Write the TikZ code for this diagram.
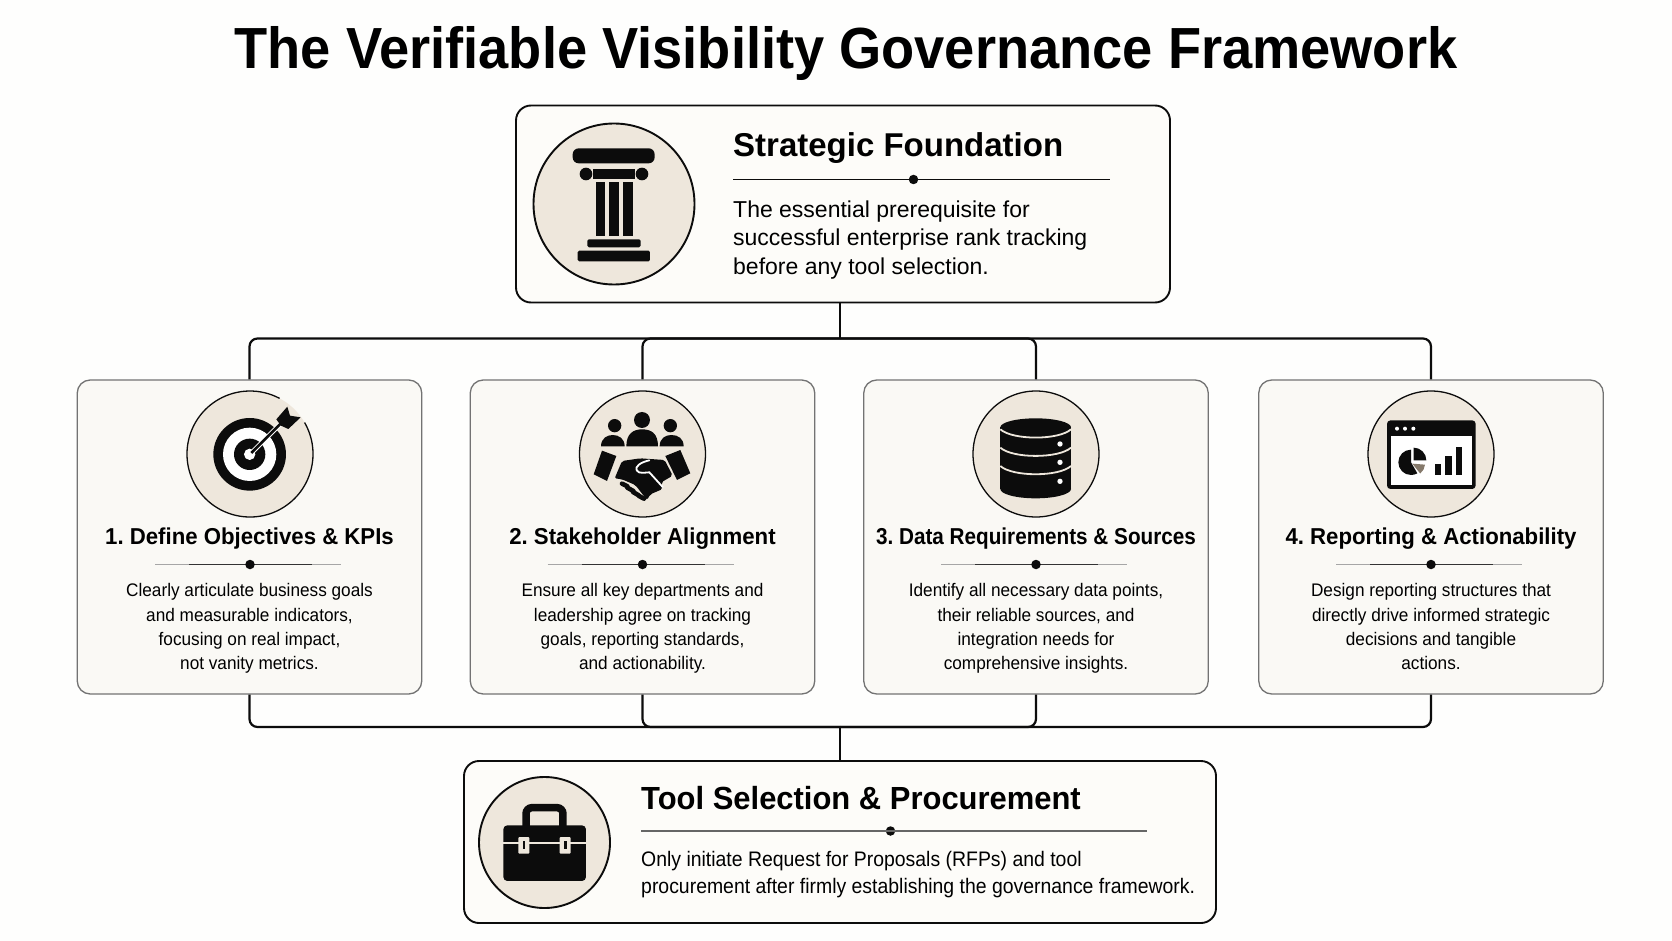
\documentclass[tikz,border=0pt]{standalone}
\usepackage{fontspec}
\setmainfont{Liberation Sans}
\definecolor{paper}{HTML}{FEFEFD}
\definecolor{panel}{HTML}{FDFCF9}
\definecolor{cardfill}{HTML}{FAF9F5}
\definecolor{sand}{HTML}{EEE7DC}
\definecolor{ink}{HTML}{0C0C0C}
\definecolor{slice}{HTML}{85796B}
\tikzset{
	wire/.style={draw=ink, line width=2.2pt},
	panelbox/.style={draw=ink, line width=1.9pt, fill=panel, rounded corners=15pt, inner sep=0pt},
	cardbox/.style={draw=black!55, line width=1.3pt, fill=cardfill, rounded corners=13pt, inner sep=0pt,
		minimum width=344.5pt, minimum height=314pt},
	badge/.style={circle, fill=sand, draw=ink, line width=1.3pt, inner sep=0pt, minimum size=126pt},
	bigbadge/.style={badge, line width=1.9pt},
	dotmark/.style={circle, fill=ink, inner sep=0pt, minimum size=9.5pt},
	icon/.style={x=0.3333pt, y=-0.3333pt},
	maintitle/.style={anchor=base, inner sep=0pt, font=\fontsize{58}{58}\selectfont\bfseries\addfontfeature{FakeStretch=0.935}},
	paneltitle/.style={anchor=base west, inner sep=0pt, font=\fontsize{33}{33}\selectfont\bfseries},
	cardtitle/.style={anchor=base, inner sep=0pt, font=\fontsize{23}{23}\selectfont\bfseries\addfontfeature{FakeStretch=0.965}},
	cardtext/.style={anchor=north, inner sep=0pt, align=center, font=\fontsize{18.2}{24.3}\selectfont\addfontfeature{FakeStretch=0.945}},
}
\begin{document}
\frenchspacing
\begin{tikzpicture}[x=1pt, y=-1pt]
	\useasboundingbox
		[fill=paper] (0,0) rectangle (1672,941);

	\node [maintitle] (heading) at (846, 68.5) {The Verifiable Visibility Governance Framework};

	\node [panelbox, minimum width=654pt, minimum height=197pt] (foundation) at (843, 204) {};
	\node [cardbox] (objectives) at (249.5, 537) {};
	\node [cardbox] (alignment) at (642.5, 537) {};
	\node [cardbox] (sources) at (1036, 537) {};
	\node [cardbox] (reporting) at (1431, 537) {};
	\node [panelbox, minimum width=752pt, minimum height=162pt] (procurement) at (840, 842) {};

	\coordinate (bustop) at (840, 338.5);
	\coordinate (busbottom) at (840, 727);

	\draw
		[wire] (bustop |- foundation.south) -- (bustop);

	\draw
		[wire] (busbottom) -- (procurement.north);

	\foreach \card in {objectives,alignment,sources,reporting} {
		\draw
			[wire, rounded corners=8pt] (bustop) -| (\card.north);
		\draw
			[wire, rounded corners=8pt] (\card.south) |- (busbottom);
	}

	\node [bigbadge, minimum size=161pt] (pillarbadge) at (614, 204) {};
	\node [badge, draw=none] (targetbadge) at (250, 454) {};
	\node [badge] (peoplebadge) at (642.5, 454) {};
	\node [badge] (databadge) at (1036, 454) {};
	\node [badge] (chartbadge) at (1431, 454) {};
	\node [bigbadge, minimum size=131pt] (toolbadge) at (544.5, 842.5) {};

	\node [paneltitle] (foundationtitle) at (733, 157) {Strategic Foundation};
	\node [dotmark] (foundationdot) at (913.5, 179.5) {};
	\node [anchor=north west, inner sep=0pt, align=left, font=\fontsize{23}{28.5}\selectfont] (foundationtext)
		at (733, 200.5) {The essential prerequisite for\\successful enterprise rank tracking\\before any tool selection.};

	\draw
		[ink, line width=1.5pt] (foundationtitle.west |- foundationdot) -- (1109.5, 179.5);

	\node [cardtitle] (objectivestitle) at (249.5, 544.5) {1. Define Objectives \& KPIs};
	\node [cardtitle] (alignmenttitle) at (642.5, 544.5) {2. Stakeholder Alignment};
	\node [cardtitle, font=\fontsize{23}{23}\selectfont\bfseries\addfontfeature{FakeStretch=0.9}] (sourcestitle) at (1036, 544.5) {3. Data Requirements \& Sources};
	\node [cardtitle] (reportingtitle) at (1431, 544.5) {4. Reporting \& Actionability};

	\foreach \x/\card in {250/objectives,642.5/alignment,1036/sources,1431/reporting} {
		\draw
			[black!35, line width=1pt] (\x-95, 564.5) -- (\x+91, 564.5);
		\draw
			[black!80, line width=1.2pt] (\x-61, 564.5) -- (\x+62, 564.5);
		\node [dotmark] (\card dot) at (\x, 564.5) {};
	}

	\node [cardtext] (objectivestext) at (249.5, 583.5)
		{Clearly articulate business goals\\and measurable indicators,\\focusing on real impact,\\not vanity metrics.};
	\node [cardtext] (alignmenttext) at (642.5, 583.5)
		{Ensure all key departments and\\leadership agree on tracking\\goals, reporting standards,\\and actionability.};
	\node [cardtext] (sourcestext) at (1036, 583.5)
		{Identify all necessary data points,\\their reliable sources, and\\integration needs for\\comprehensive insights.};
	\node [cardtext] (reportingtext) at (1431, 583.5)
		{Design reporting structures that\\directly drive informed strategic\\decisions and tangible\\actions.};

	\node [paneltitle, font=\fontsize{32}{32}\selectfont\bfseries\addfontfeature{FakeStretch=0.967}] (procurementtitle) at (641, 809.5) {Tool Selection \& Procurement};
	\node [dotmark] (procurementdot) at (890.5, 831) {};
	\node [anchor=north west, inner sep=0pt, align=left, font=\fontsize{21}{27}\selectfont\addfontfeature{FakeStretch=0.925}] (procurementtext)
		at (641, 851) {Only initiate Request for Proposals (RFPs) and tool\\procurement after firmly establishing the governance framework.};

	\draw
		[black!60, line width=1.5pt] (procurementtitle.west |- procurementdot) -- (1146.5, 831);

	\begin{scope}[shift={(530,120)}, icon]
		\fill [ink, rounded corners=6pt] (128,85) rectangle (374,130);
		\fill [ink] (190,147) rectangle (314,176);
		\fill [ink] (168,162) circle (19);
		\fill [ink] (336,162) circle (19);
		\foreach \x in {197,238,279}
			\fill [ink] (\x,186) rectangle (\x+29,348);
		\fill [ink, rounded corners=1.5pt] (172,358) rectangle (332,382);
		\fill [ink, rounded corners=1.5pt] (143,392) rectangle (360,424);
	\end{scope}

	\draw
		[ink, line width=1.3pt] (targetbadge.center) ++(-30:63) arc [start angle=-30, end angle=298, radius=63];

	\begin{scope}[shift={(180,385)}, icon]
		\fill [ink] (209,208) circle (109);
		\fill [white] (209,208) circle (80);
		\fill [ink] (209,208) circle (47);
		\fill [white] (209,208) circle (17);
		\draw [white, line width=4.6pt] (214,204) -- (300,118);
		\draw [ink, line width=2.6pt] (214,204) -- (305,113);
		\fill [ink] (289,103) -- (322,65) -- (330,92) -- (362,97) -- (325,132) -- (303,122) -- cycle;
	\end{scope}

	\begin{scope}[shift={(572,385)}, icon]
		\fill [ink] (210,105) circle (24);
		\fill [ink] (128,122) circle (20);
		\fill [ink] (295,122) circle (20);
		\fill [ink] (163,184) .. controls (163,145) and (185,133) .. (210,133) .. controls (238,133) and (258,145) .. (258,184) -- cycle;
		\fill [ink] (87,184) .. controls (87,160) and (105,150) .. (122,150) .. controls (140,150) and (158,160) .. (158,184) -- cycle;
		\fill [ink] (263,184) .. controls (263,160) and (280,150) .. (298,150) .. controls (318,150) and (335,160) .. (335,184) -- cycle;
		\fill [ink] (90,197) -- (133,213) -- (105,288) -- (65,268) -- cycle;
		\fill [ink] (280,213) -- (325,195) -- (355,265) -- (315,285) -- cycle;
		\fill [ink, rounded corners=2pt] (128,280) -- (150,228) -- (205,220) -- (278,225) -- (302,272) -- (268,292) -- (272,312) -- (235,328) -- (225,345) -- (190,300) -- (150,283) -- cycle;
		\draw [white, line width=1.8pt, line cap=round] (232,226) .. controls (205,232) and (188,245) .. (194,256) .. controls (200,268) and (222,262) .. (232,262) -- (272,306);
		\foreach \xa/\ya/\xb/\yb in {150/296/166/304,166/308/184/318,183/321/200/331,201/333/216/341}
			\draw [ink, line width=4.6pt, line cap=round] (\xa,\ya) -- (\xb,\yb);
	\end{scope}

	\begin{scope}[shift={(966,385)}, icon]
		\fill [ink] (209,127) ellipse [x radius=106, y radius=27];
		\fill [ink] (103,127) rectangle (315,312);
		\fill [ink] (209,312) ellipse [x radius=106, y radius=28];
		\foreach \y in {133,188,243}
			\draw [sand, line width=1.8pt] (103,\y) .. controls (140,\y+33) and (278,\y+33) .. (315,\y);
		\foreach \y in {177,232,289}
			\fill [white] (282,\y) circle (8);
	\end{scope}

	\begin{scope}[shift={(1361,385)}, icon]
		\fill [ink, rounded corners=3.5pt] (78,106) rectangle (344,312);
		\fill [white] (90,153) rectangle (332,301);
		\foreach \x in {108,132,157}
			\fill [white] (\x,131) circle (6);
		\fill [ink] (150,232) -- (150,194) arc [start angle=-90, end angle=-300, radius=38] -- cycle;
		\fill [ink] (158,226) -- (158,188) arc [start angle=-90, end angle=0, radius=38] -- cycle;
		\fill [slice] (154,236) -- (192,239) arc [start angle=5, end angle=52, radius=38] -- cycle;
		\fill [ink] (222,238) rectangle (240,270);
		\fill [ink] (252,214) rectangle (272,270);
		\fill [ink] (284,186) rectangle (304,270);
	\end{scope}

	\begin{scope}[shift={(475,772)}, icon]
		\draw [ink, line width=7.5pt, rounded corners=6pt] (153,165) -- (153,107) -- (264,107) -- (264,165);
		\fill [ink, rounded corners=4pt] (85,160) rectangle (333,327);
		\draw [sand, line width=1.7pt] (85,212) -- (333,212);
		\foreach \x in {130,254} {
			\fill [sand, rounded corners=1pt] (\x,195) rectangle (\x+33,245);
			\fill [ink] (\x+13,207) rectangle (\x+21,232);
		}
	\end{scope}
\end{tikzpicture}
\end{document}
